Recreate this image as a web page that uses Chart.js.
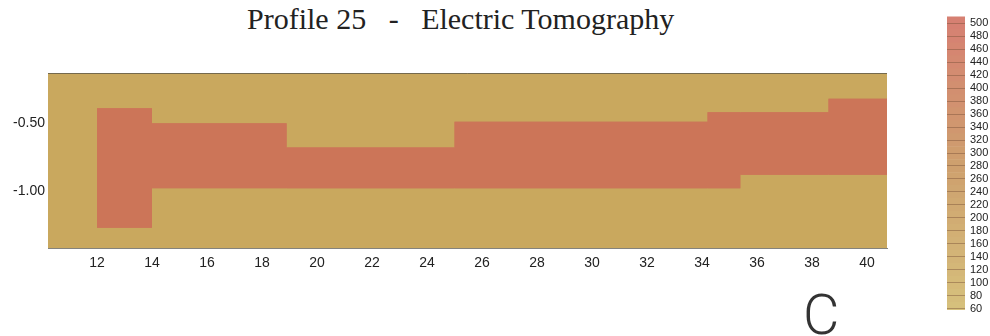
<!DOCTYPE html>
<html>
<head>
<meta charset="utf-8">
<script src="https://cdn.jsdelivr.net/npm/chart.js@4/dist/chart.umd.min.js"></script>
<style>
  body { margin:0; background:#fff; width:990px; height:336px; position:relative; overflow:hidden; }
  #title { position:absolute; left:247px; top:4px; font:30px/30px 'Liberation Serif', serif; color:#222; white-space:pre; }
  #mark { position:absolute; left:803px; top:287px; font:300 56px/56px Roboto, sans-serif; color:#333; }
  #main { position:absolute; left:0; top:0; }
  #bar { position:absolute; left:930px; top:0; }
</style>
</head>
<body>
<div id="title">Profile 25   -   Electric Tomography</div>
<canvas id="main" width="900" height="336"></canvas>
<canvas id="bar" width="60" height="336"></canvas>
<div id="mark">C</div>
<script>
// axis ranges and tick labels
const xMin = 10.22, xMax = 40.73;
const yMin = -1.42, yMax = -0.13;
const xTicks = [12, 14, 16, 18, 20, 22, 24, 26, 28, 30, 32, 34, 36, 38, 40];
const yTicks = [-0.5, -1.0];

// conductive (high value) blocks: distance from/to, depth top/bottom, value
const blockStart  = [12,    14,    18.9,  25,    34.2,  35.4,  38.6];
const blockEnd    = [14,    18.9,  25,    34.2,  35.4,  38.6,  40.73];
const blockTop    = [-0.39, -0.50, -0.68, -0.49, -0.42, -0.42, -0.32];
const blockBottom = [-1.27, -0.98, -0.98, -0.98, -0.98, -0.88, -0.88];
const blockValue  = [470,   380,   470,   475,   465,   460,   470];
const backgroundValue = 100;

// colour scale
const colorTicks = [60, 80, 100, 120, 140, 160, 180, 200, 220, 240, 260, 280,
                    300, 320, 340, 360, 380, 400, 420, 440, 460, 480, 500];
const cbMin = 58, cbMax = 518;

function mix(a, b, t) {
    return 'rgb(' + a.map((c, i) => Math.round(c + (b[i] - c) * t)).join(',') + ')';
}
function plotColor(v) {
    return mix([201, 174, 95], [204, 113, 88], (v - 60) / 440);
}
function barColor(v) {
    let t = (v - 60) / 440;
    if (t < 0.5) return mix([214, 192, 124], [206, 160, 110], t * 2);
    return mix([206, 160, 110], [214, 128, 114], (t - 0.5) * 2);
}

let datasets = [];
// whole band underneath so the blocks join without seams
let n = blockStart.length;
datasets.push({
    data: blockStart.map((s, i) => ({x: s, y: blockTop[i]})).concat([{x: blockEnd[n - 1], y: blockTop[n - 1]}]),
    stepped: 'before', fill: '+1',
    backgroundColor: plotColor(470),
    borderColor: 'transparent', borderWidth: 0, pointRadius: 0
});
datasets.push({
    data: blockStart.map((s, i) => ({x: s, y: blockBottom[i]})).concat([{x: blockEnd[n - 1], y: blockBottom[n - 1]}]),
    stepped: 'before', fill: false,
    borderColor: 'transparent', borderWidth: 0, pointRadius: 0
});
for (let i = 0; i < n; i++) {
    datasets.push({
        data: [{x: blockStart[i], y: blockTop[i]}, {x: blockEnd[i], y: blockTop[i]}],
        fill: '+1',
        backgroundColor: plotColor(blockValue[i]),
        borderColor: 'transparent', borderWidth: 0, pointRadius: 0
    });
    datasets.push({
        data: [{x: blockStart[i], y: blockBottom[i]}, {x: blockEnd[i], y: blockBottom[i]}],
        fill: false,
        borderColor: 'transparent', borderWidth: 0, pointRadius: 0
    });
}

const plotBg = {
    id: 'plotBg',
    beforeDraw(chart) {
        const a = chart.chartArea, ctx = chart.ctx;
        ctx.save();
        ctx.fillStyle = plotColor(backgroundValue);
        ctx.fillRect(a.left, a.top, a.right - a.left, a.bottom - a.top);
        ctx.restore();
    },
    afterDatasetsDraw(chart) {
        const a = chart.chartArea, ctx = chart.ctx;
        ctx.save();
        ctx.strokeStyle = 'rgba(80,78,70,0.7)';
        ctx.lineWidth = 1;
        ctx.beginPath();
        ctx.moveTo(a.left, a.top + 0.5);
        ctx.lineTo(a.right, a.top + 0.5);
        ctx.stroke();
        ctx.restore();
    }
};

const tickFont = {family: 'Liberation Sans', size: 14};

new Chart(document.getElementById('main'), {
    type: 'line',
    data: {datasets: datasets},
    plugins: [plotBg],
    options: {
        responsive: false,
        animation: false,
        layout: {padding: {top: 73, right: 13, left: 0, bottom: 0}},
        plugins: {legend: {display: false}, tooltip: {enabled: false}},
        scales: {
            x: {
                type: 'linear', min: xMin, max: xMax,
                afterBuildTicks: a => { a.ticks = xTicks.map(v => ({value: v})); },
                afterFit: s => { s.height = 88; },
                ticks: {font: tickFont, color: '#222', padding: 7, maxRotation: 0, autoSkip: false, callback: v => v},
                grid: {display: false, drawTicks: false},
                border: {color: 'rgba(80,78,70,0.7)'}
            },
            y: {
                type: 'linear', min: yMin, max: yMax,
                afterBuildTicks: a => { a.ticks = yTicks.map(v => ({value: v})); },
                afterFit: s => { s.width = 48; },
                ticks: {font: tickFont, color: '#222', padding: 3, callback: v => v.toFixed(2)},
                grid: {display: false, drawTicks: false},
                border: {display: false}
            }
        }
    }
});

// colour bar
new Chart(document.getElementById('bar'), {
    type: 'bar',
    data: {
        labels: [''],
        datasets: colorTicks.map(v => ({
            data: [[Math.max(v - 10, cbMin), Math.min(v + 10, cbMax)]],
            backgroundColor: barColor(v),
            barPercentage: 1, categoryPercentage: 1, grouped: false
        }))
    },
    options: {
        responsive: false,
        animation: false,
        layout: {padding: {top: 9, bottom: 26, left: 17, right: 0}},
        plugins: {legend: {display: false}, tooltip: {enabled: false}},
        scales: {
            x: {display: false, stacked: true},
            y: {
                position: 'right', min: cbMin, max: cbMax,
                afterBuildTicks: a => { a.ticks = colorTicks.map(v => ({value: v})); },
                afterFit: s => { s.width = 25; },
                ticks: {font: {family: 'Liberation Sans', size: 11}, color: '#222', padding: 5, autoSkip: false},
                grid: {z: 1, color: 'rgba(120,80,55,0.45)', drawTicks: false},
                border: {display: false}
            }
        }
    }
});
</script>
</body>
</html>
